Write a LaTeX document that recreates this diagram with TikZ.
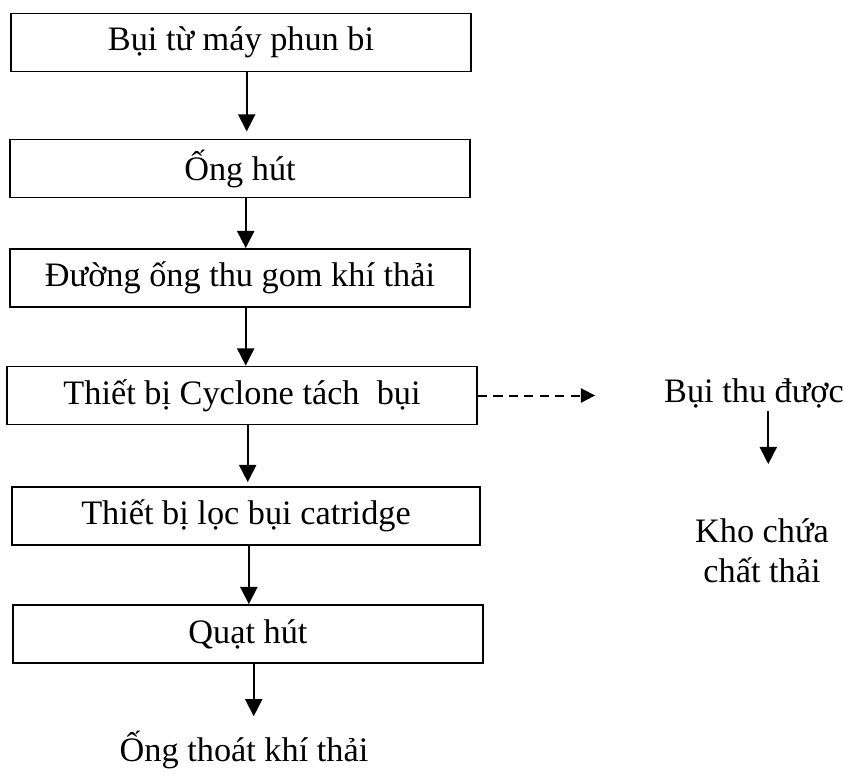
\documentclass[tikz,border=0pt]{standalone}
\usepackage{fontspec}
\setmainfont{Liberation Serif}
\usepackage{tikz}
\usetikzlibrary{arrows.meta, positioning}

\begin{document}
\begin{tikzpicture}[x=0.35pt, y=-0.35pt, font=\fontsize{12}{14}\selectfont,
      blk/.style={draw=black, line width=0.65pt, fill=white, inner sep=0pt, minimum width=161pt, minimum height=20.3pt, align=center},
      lbl/.style={inner sep=1pt, align=center},
      arr/.style={-{Triangle[length=6pt, width=6pt]}, line width=0.6pt},
      dasharr/.style={-{Triangle[length=5pt, width=5pt]}, line width=0.7pt, dash pattern=on 3.2pt off 2.2pt}]
      \useasboundingbox (0,0) rectangle (845,778);
      \node[blk] (bui) at (241,42.5) {Bụi từ máy phun bi};
      \node[blk] (onghut) at (240,168.5) {Ống hút};
      \node[blk] (duongong) at (240,278) {Đường ống thu gom khí thải};
      \node[blk, minimum width=164.5pt] (cyclone) at (242,395.5) {Thiết bị Cyclone tách\ \ bụi};
      \node[blk, minimum width=164pt] (loc) at (246,516) {Thiết bị lọc bụi catridge};
      \node[blk, minimum width=164.5pt] (quat) at (248,634) {Quạt hút};
      \node[lbl] (thoat) at (244,750) {Ống thoát khí thải};
      \node[lbl] (thu) at (754,393) {Bụi thu được};
      \node[lbl] (kho) at (762,551) {Kho chứa\\chất thải};
      \draw[arr, shorten >=2.5pt] ([xshift=2pt]bui.south) -- ([xshift=2pt]bui.south |- onghut.north);
      \draw[arr] ([xshift=2pt]onghut.south) -- ([xshift=2pt]onghut.south |- duongong.north);
      \draw[arr] ([xshift=2pt]duongong.south) -- ([xshift=2pt]duongong.south |- cyclone.north);
      \draw[arr, shorten >=1.4pt] ([xshift=2pt]cyclone.south) -- ([xshift=2pt]cyclone.south |- loc.north);
      \draw[arr] ([xshift=1pt]loc.south) -- ([xshift=1pt]loc.south |- quat.north);
      \draw[arr, shorten >=4pt] ([xshift=2pt]quat.south) -- ([xshift=2pt]quat.south |- thoat.north);
      \draw[dasharr, shorten >=23pt] (cyclone.east) -- (cyclone.east -| thu.west);
      \draw[arr, shorten >=18pt] ([xshift=5pt]thu.south) -- ([xshift=5pt]thu.south |- kho.north);
    \end{tikzpicture}
\end{document}
